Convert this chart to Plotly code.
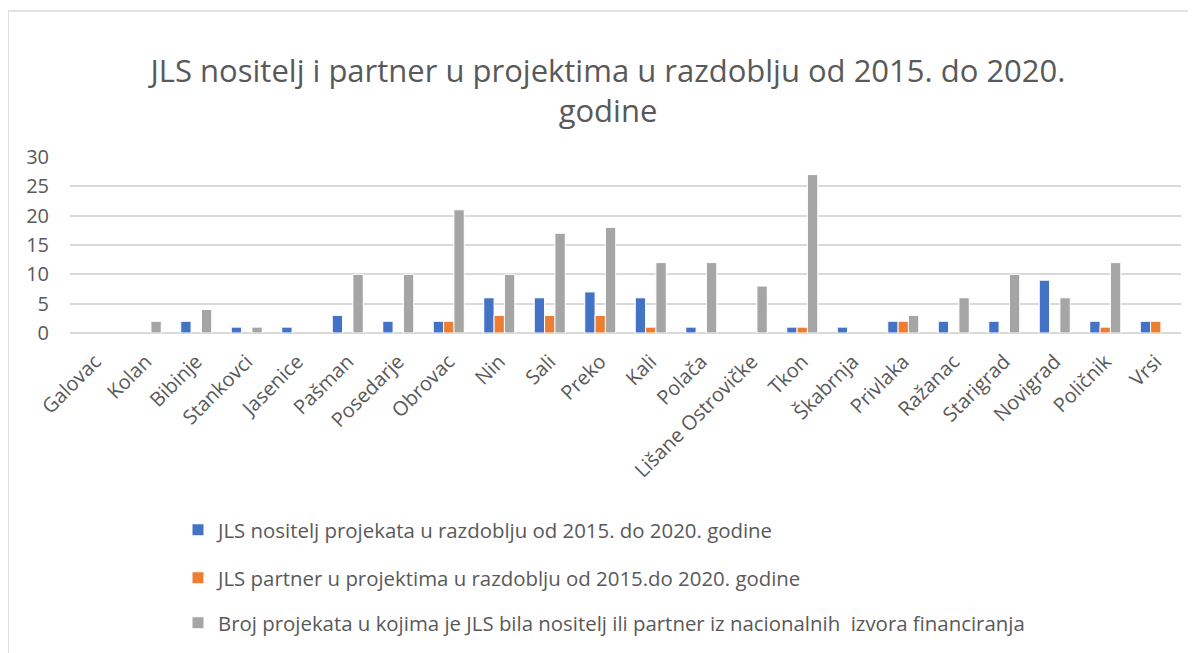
import plotly.graph_objects as go

categories = ["Galovac", "Kolan", "Bibinje", "Stankovci", "Jasenice", "Pašman",
              "Posedarje", "Obrovac", "Nin", "Sali", "Preko", "Kali", "Polača",
              "Lišane Ostrovičke", "Tkon", "Škabrnja", "Privlaka", "Ražanac",
              "Starigrad", "Novigrad", "Poličnik", "Vrsi"]
nositelj = [0, 0, 2, 1, 1, 3, 2, 2, 6, 6, 7, 6, 1, 0, 1, 1, 2, 2, 2, 9, 2, 2]
partner = [0, 0, 0, 0, 0, 0, 0, 2, 3, 3, 3, 1, 0, 0, 1, 0, 2, 0, 0, 0, 1, 2]
nacionalni = [0, 2, 4, 1, 0, 10, 10, 21, 10, 17, 18, 12, 12, 8, 27, 0, 3, 6, 10, 6, 12, 0]

series_names = [
    "JLS nositelj projekata u razdoblju od 2015. do 2020. godine",
    "JLS partner u projektima u razdoblju od 2015.do 2020. godine",
    "Broj projekata u kojima je JLS bila nositelj ili partner iz nacionalnih  izvora financiranja",
]
colors = ["#4472C4", "#ED7D31", "#A5A5A5"]
title_text = "JLS nositelj i partner u projektima u razdoblju od 2015. do 2020.<br>godine"

W, H = 1196, 653
OFF = 8  # page offset of the plot div (body margin)
# plot area in page pixels
PL, PR, PT, PB = 70, 1181, 157, 333
L, R, T, B = PL - OFF, PR - OFF, PT - OFF, PB - OFF
FONT = "Open Sans"
GREY = "#595959"

def px_x(x):  # page px -> paper x
    return (x - OFF - L) / (R - L)

def px_y(y):  # page px -> paper y
    return (B - (y - OFF)) / (B - T)

fig = go.Figure()
legend_ids = ["legend", "legend2", "legend3"]
for name, vals, col, lg in zip(series_names, [nositelj, partner, nacionalni], colors, legend_ids):
    fig.add_trace(go.Bar(
        x=categories, y=[v if v else None for v in vals], name=name, legend=lg,
        showlegend=True,
        marker=dict(color=col, line=dict(color="white", width=1)),
    ))

legend_common = dict(font=dict(family=FONT, size=20.4, color=GREY),
                     bgcolor="rgba(0,0,0,0)", xanchor="left", yanchor="middle",
                     borderwidth=0)
legend_y = [530, 578, 623]
LEG_X = 178
fig.update_layout(
    width=W, height=H, showlegend=True,
    margin=dict(l=L, r=W - R, t=T, b=H - B, autoexpand=False),
    paper_bgcolor="white", plot_bgcolor="white",
    barmode="group", bargap=0.386, bargroupgap=0,
    title=dict(text=title_text, x=(608 - OFF) / W, xanchor="center",
               y=1 - (82 - OFF) / H, yanchor="middle", yref="container",
               font=dict(family=FONT, size=31, color=GREY)),
    legend=dict(x=px_x(LEG_X), y=px_y(legend_y[0]), **legend_common),
    legend2=dict(x=px_x(LEG_X), y=px_y(legend_y[1]), **legend_common),
    legend3=dict(x=px_x(LEG_X), y=px_y(legend_y[2]), **legend_common),
    xaxis=dict(tickangle=-45, tickfont=dict(family=FONT, size=20, color=GREY),
               showgrid=False, showline=False, ticks="", fixedrange=True,
               ticklabelstandoff=12),
    yaxis=dict(range=[0, 30], dtick=5, tickfont=dict(family=FONT, size=20, color=GREY),
               showgrid=True, gridcolor="#D9D9D9", gridwidth=1.5,
               zeroline=True, zerolinecolor="#D9D9D9", zerolinewidth=1.5,
               ticklabelstandoff=20, showline=False, fixedrange=True),
    shapes=[
        dict(type="line", xref="paper", yref="paper", x0=px_x(8), x1=px_x(8),
             y0=px_y(11), y1=px_y(720), line=dict(color="#D9D9D9", width=1.5)),
        dict(type="line", xref="paper", yref="paper", x0=px_x(8), x1=px_x(1260),
             y0=px_y(11), y1=px_y(11), line=dict(color="#D9D9D9", width=1.5)),
    ],
)

fig.write_html("out.html")
